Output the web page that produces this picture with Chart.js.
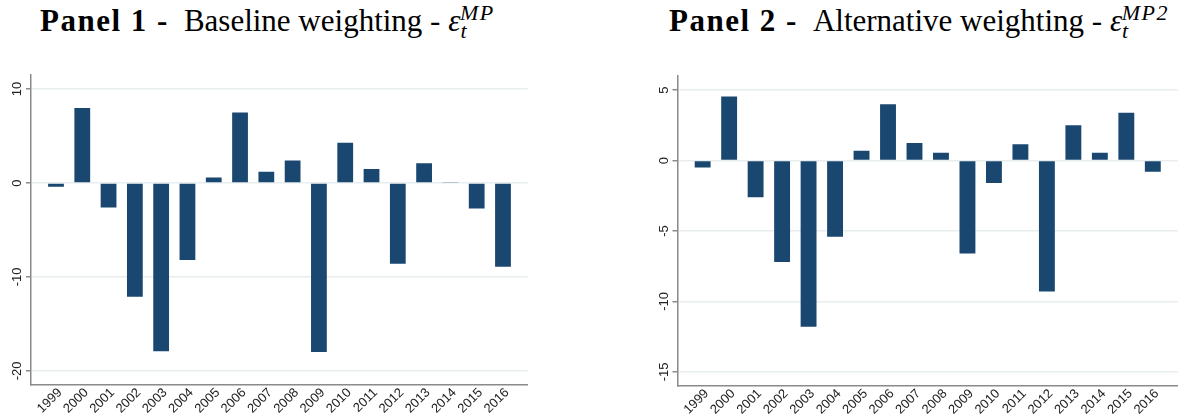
<!DOCTYPE html>
<html>
<head>
<meta charset="utf-8">
<title>Monetary policy shocks</title>
<script src="https://cdn.jsdelivr.net/npm/chart.js@4.4.1/dist/chart.umd.min.js"></script>
<style>
    body {
        margin: 0;
        width: 1179px;
        height: 420px;
        overflow: hidden;
        position: relative;
        background: #fff;
    }
    .title {
        position: absolute;
        top: 6px;
        font-family: "Liberation Serif", "Times New Roman", serif;
        font-size: 31px;
        line-height: 30px;
        color: #000;
        white-space: nowrap;
    }
    .title b {
        letter-spacing: 1.5px;
        margin-right: 15px;
    }
    .title .eps {
        font-style: italic;
    }
    .title sub,
    .title sup {
        font-size: 22px;
        font-style: italic;
        line-height: 0;
        letter-spacing: 1.5px;
    }
    .title sup {
        margin-left: -8px;
    }
    canvas {
        position: absolute;
        top: 0;
    }
</style>
</head>
<body>
<div class="title" style="left: 40px;"><b>Panel 1 -</b>Baseline weighting - <span class="eps">ε</span><sub>t</sub><sup>MP</sup></div>
<div class="title" style="left: 669px;"><b>Panel 2 -</b>Alternative weighting - <span class="eps">ε</span><sub>t</sub><sup>MP2</sup></div>
<canvas id="panel1" width="590" height="420" style="left: 0;"></canvas>
<canvas id="panel2" width="590" height="420" style="left: 589px;"></canvas>
<script>
// data
const years = [1999, 2000, 2001, 2002, 2003, 2004, 2005, 2006, 2007, 2008,
    2009, 2010, 2011, 2012, 2013, 2014, 2015, 2016];
const baselineShocks = [-0.4, 8.0, -2.6, -12.1, -17.9, -8.2, 0.6, 7.5, 1.2, 2.4,
    -18.0, 4.3, 1.5, -8.6, 2.1, 0.1, -2.7, -8.9];
const alternativeShocks = [-0.5, 4.55, -2.6, -7.2, -11.8, -5.4, 0.7, 4.0, 1.25, 0.55,
    -6.6, -1.6, 1.15, -9.3, 2.5, 0.55, 3.4, -0.8];
const baselineTicks = [-20, -10, 0, 10];
const alternativeTicks = [-15, -10, -5, 0, 5];
const baselineRange = [-21.5, 11.5];
const alternativeRange = [-16, 6];
const yearRange = [1998.05, 2016.94];

(function () {
    const BAR_COLOR = '#1a476f';
    const AXIS_COLOR = '#8a8a8a';
    const GRID_COLOR = '#e8eef0';
    const TICK_FONT = { family: '"Liberation Sans", Arial, sans-serif', size: 13 };

    function fixedTicks(values) {
        return (scale) => {
            scale.ticks = values.map((v) => ({ value: v }));
        };
    }

    function makePanel(canvasId, values, yTicks, yRange, layout) {
        const ctx = document.getElementById(canvasId).getContext('2d');
        return new Chart(ctx, {
            type: 'bar',
            data: {
                datasets: [{
                    data: years.map((year, i) => ({ x: year, y: values[i] })),
                    backgroundColor: BAR_COLOR,
                    borderWidth: 0,
                    barPercentage: 0.6,
                    categoryPercentage: 1
                }]
            },
            options: {
                responsive: false,
                animation: false,
                events: [],
                layout: {
                    padding: { top: layout.top, right: layout.right, bottom: 0, left: 0 }
                },
                plugins: {
                    legend: { display: false },
                    tooltip: { enabled: false }
                },
                scales: {
                    x: {
                        type: 'linear',
                        min: yearRange[0],
                        max: yearRange[1],
                        offset: false,
                        afterBuildTicks: fixedTicks(years),
                        afterFit: (scale) => { scale.height = layout.xHeight; },
                        grid: { display: false },
                        border: { color: AXIS_COLOR, width: 1.5 },
                        ticks: {
                            autoSkip: false,
                            minRotation: 45,
                            maxRotation: 45,
                            padding: -8,
                            labelOffset: 4,
                            color: '#222',
                            font: TICK_FONT,
                            callback: (value) => String(value)
                        }
                    },
                    y: {
                        min: yRange[0],
                        max: yRange[1],
                        afterBuildTicks: fixedTicks(yTicks),
                        afterFit: (scale) => { scale.width = layout.yWidth; },
                        grid: {
                            color: GRID_COLOR,
                            lineWidth: 1.5,
                            tickLength: 5,
                            tickColor: AXIS_COLOR
                        },
                        border: { color: AXIS_COLOR, width: 1.5 },
                        ticks: {
                            minRotation: 90,
                            maxRotation: 90,
                            crossAlign: 'center',
                            padding: -1,
                            color: '#222',
                            font: TICK_FONT,
                            callback: (value) => String(value)
                        }
                    }
                }
            }
        });
    }

    makePanel('panel1', baselineShocks, baselineTicks, baselineRange,
        { top: 75, right: 62.3, xHeight: 35, yWidth: 31 });
    makePanel('panel2', alternativeShocks, alternativeTicks, alternativeRange,
        { top: 76, right: 1.3, xHeight: 34, yWidth: 88.5 });
})();
</script>
</body>
</html>
